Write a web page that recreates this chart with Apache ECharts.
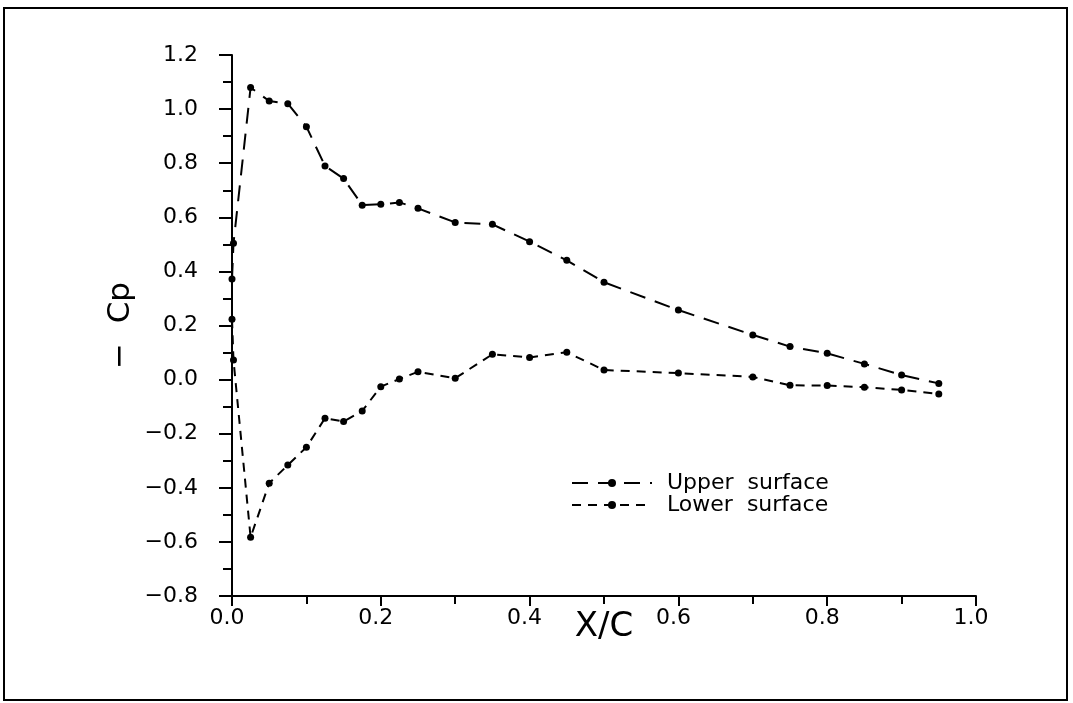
<!DOCTYPE html>
<html>
<head>
<meta charset="utf-8">
<script src="https://cdn.jsdelivr.net/npm/echarts@6/dist/echarts.min.js"></script>
<style>
html,body{margin:0;padding:0;background:#fff;}
#chart{width:1073px;height:703px;}
</style>
</head>
<body>
<div id="chart"></div>
<script>
// Data
const upperX = [0.0, 0.002, 0.025, 0.05, 0.075, 0.1, 0.125, 0.15, 0.175, 0.2, 0.225, 0.25, 0.3, 0.35, 0.4, 0.45, 0.5, 0.6, 0.7, 0.75, 0.8, 0.85, 0.9, 0.95];
const upperY = [0.372, 0.504, 1.08, 1.03, 1.02, 0.935, 0.79, 0.743, 0.645, 0.648, 0.655, 0.633, 0.581, 0.574, 0.51, 0.441, 0.36, 0.257, 0.165, 0.122, 0.097, 0.058, 0.017, -0.014];
const lowerX = [0.0, 0.002, 0.025, 0.05, 0.075, 0.1, 0.125, 0.15, 0.175, 0.2, 0.225, 0.25, 0.3, 0.35, 0.4, 0.45, 0.5, 0.6, 0.7, 0.75, 0.8, 0.85, 0.9, 0.95];
const lowerY = [0.223, 0.072, -0.583, -0.383, -0.316, -0.25, -0.143, -0.155, -0.116, -0.026, 0.002, 0.029, 0.005, 0.0935, 0.082, 0.101, 0.0355, 0.024, 0.01, -0.021, -0.022, -0.028, -0.038, -0.053];
const xTicks = [0.0, 0.2, 0.4, 0.6, 0.8, 1.0];
const yTicks = [-0.8, -0.6, -0.4, -0.2, 0.0, 0.2, 0.4, 0.6, 0.8, 1.0, 1.2];
const seriesNames = ['Upper  surface', 'Lower  surface'];

const FONT = 'DejaVu Sans';
const fmt = v => (v < 0 ? '\u2212' : '') + Math.abs(v).toFixed(1);

const chart = echarts.init(document.getElementById('chart'), null, {renderer: 'canvas'});
const mk = (xs, ys) => xs.map((x, i) => [x, ys[i]]);

chart.setOption({
  backgroundColor: '#fff',
  animation: false,
  graphic: [{
    type: 'rect',
    shape: {x: 4, y: 8, width: 1063, height: 692},
    style: {fill: 'none', stroke: '#000', lineWidth: 2},
    silent: true
  }],
  grid: {left: 232, right: 97, top: 55, bottom: 107},
  legend: {
    left: 566, top: 467, orient: 'vertical',
    itemWidth: 80, itemHeight: 10, itemGap: 0,
    textStyle: {fontFamily: FONT, fontSize: 22, color: '#000', padding: [0, 0, 0, 10]},
    data: seriesNames
  },
  xAxis: {
    type: 'value', min: 0, max: 1.0, interval: 0.2,
    name: 'X/C', nameLocation: 'middle', nameGap: 14, nameMoveOverlap: false,
    nameTextStyle: {fontFamily: FONT, fontSize: 34, color: '#000'},
    axisLine: {onZero: false, lineStyle: {color: '#000', width: 2}},
    axisTick: {show: true, length: 10, lineStyle: {color: '#000', width: 2}},
    minorTick: {show: true, splitNumber: 2, length: 8, lineStyle: {color: '#000', width: 2}},
    splitLine: {show: false},
    axisLabel: {fontFamily: FONT, fontSize: 22, color: '#000', margin: 11, formatter: v => fmt(v), padding: [0, 10, 0, 0]}
  },
  yAxis: {
    type: 'value', min: -0.8, max: 1.2, interval: 0.2,
    name: '\u2212  Cp', nameLocation: 'middle', nameGap: 96, nameRotate: 90, nameMoveOverlap: false,
    nameTextStyle: {fontFamily: FONT, fontSize: 31, color: '#000'},
    axisLine: {onZero: false, lineStyle: {color: '#000', width: 2}},
    axisTick: {show: true, length: 13, lineStyle: {color: '#000', width: 2}},
    minorTick: {show: true, splitNumber: 2, length: 9, lineStyle: {color: '#000', width: 2}},
    splitLine: {show: false},
    axisLabel: {fontFamily: FONT, fontSize: 22, color: '#000', margin: 34, formatter: v => fmt(v)}
  },
  series: [
    {
      name: seriesNames[0], type: 'line', data: mk(upperX, upperY),
      symbol: 'circle', symbolSize: 7, showSymbol: true,
      lineStyle: {color: '#000', width: 2, type: [16, 10]},
      itemStyle: {color: '#000'}
    },
    {
      name: seriesNames[1], type: 'line', data: mk(lowerX, lowerY),
      symbol: 'circle', symbolSize: 7, showSymbol: true,
      lineStyle: {color: '#000', width: 2, type: [9, 7]},
      itemStyle: {color: '#000'}
    }
  ]
});
</script>
</body>
</html>
